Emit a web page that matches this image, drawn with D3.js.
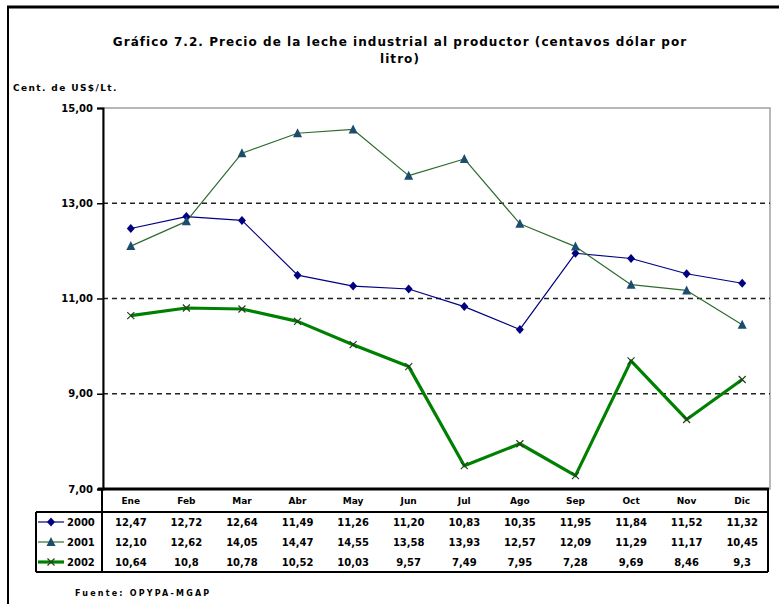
<!DOCTYPE html>
<html><head><meta charset="utf-8">
<script src="https://cdn.jsdelivr.net/npm/d3@7"></script>
<style>
html,body{margin:0;padding:0;background:#fff;}
svg{display:block;font-family:"DejaVu Sans",Verdana,sans-serif;}
</style></head>
<body>
<svg id="c" width="779" height="604"></svg>
<script>
const months = ["Ene","Feb","Mar","Abr","May","Jun","Jul","Ago","Sep","Oct","Nov","Dic"];
const years = ["2000","2001","2002"];
const values2000 = ["12,47","12,72","12,64","11,49","11,26","11,20","10,83","10,35","11,95","11,84","11,52","11,32"];
const values2001 = ["12,10","12,62","14,05","14,47","14,55","13,58","13,93","12,57","12,09","11,29","11,17","10,45"];
const values2002 = ["10,64","10,8","10,78","10,52","10,03","9,57","7,49","7,95","7,28","9,69","8,46","9,3"];
const yTicks = [7,9,11,13,15];
const yTickLabels = ["7,00","9,00","11,00","13,00","15,00"];
const titleLines = ["Gráfico 7.2. Precio de la leche industrial al productor (centavos dólar por","litro)"];
const yLabel = "Cent. de US$/Lt.";
const source = "Fuente: OPYPA-MGAP";

const parse = s => +s.replace(",", ".");
const series = [
  {name: years[0], labels: values2000, color: "#000080", width: 1.2, marker: "diamond", mcolor: "#000080"},
  {name: years[1], labels: values2001, color: "#2f6b2f", width: 1.2, marker: "triangle", mcolor: "#1d4d6e"},
  {name: years[2], labels: values2002, color: "#008000", width: 3.2, marker: "x", mcolor: "#204020"}
];
series.forEach(s => s.values = s.labels.map(parse));

const svg = d3.select("#c");
const L = 103, R = 770, T = 108, B = 489;
const x = d3.scaleBand().domain(months).range([L, R]);
const y = d3.scaleLinear().domain([7, 15]).range([B, T]);
const cx = m => x(m) + x.bandwidth() / 2;

// outer frame
svg.append("line").attr("x1", 7).attr("x2", 779).attr("y1", 7).attr("y2", 7).attr("stroke", "#000").attr("stroke-width", 3);
svg.append("line").attr("x1", 8).attr("x2", 8).attr("y1", 6).attr("y2", 604).attr("stroke", "#000").attr("stroke-width", 2);

// title
svg.append("g").selectAll("text").data(titleLines).join("text")
  .attr("x", 400).attr("y", (d, i) => 46 + i * 17)
  .attr("text-anchor", "middle").attr("font-size", 12).attr("font-weight", "bold").attr("fill", "#000")
  .attr("letter-spacing", 1.05)
  .text(d => d);

svg.append("text").attr("x", 13).attr("y", 91).attr("font-size", 9).attr("font-weight", "bold")
  .attr("letter-spacing", 1.4).text(yLabel);

// plot area border (gray)
svg.append("rect").attr("x", L).attr("y", T).attr("width", R - L).attr("height", B - T)
  .attr("fill", "none").attr("stroke", "#a0a0a0").attr("stroke-width", 1.5);

// dashed gridlines
svg.append("g").selectAll("line").data(yTicks.filter(t => t > 7 && t < 15)).join("line")
  .attr("x1", L).attr("x2", R).attr("y1", d => y(d)).attr("y2", d => y(d))
  .attr("stroke", "#222").attr("stroke-width", 1.5).attr("stroke-dasharray", "5,4");

// y axis
const yAxis = d3.axisLeft(y).tickValues(yTicks).tickSize(6).tickFormat((d, i) => yTickLabels[i]);
const ga = svg.append("g").attr("transform", `translate(${L},0)`).call(yAxis);
ga.select(".domain").attr("stroke", "#000").attr("stroke-width", 2);
ga.selectAll(".tick line").attr("stroke", "#000").attr("stroke-width", 1.5);
ga.selectAll(".tick text").attr("font-size", 10).attr("font-weight", "bold").attr("font-family", "DejaVu Sans, sans-serif").attr("fill", "#000").attr("x", -10);

// lines
const line = d3.line().x((d, i) => cx(months[i])).y(d => y(d));
series.forEach(s => {
  svg.append("path").datum(s.values).attr("d", line).attr("fill", "none")
    .attr("stroke", s.color).attr("stroke-width", s.width).attr("stroke-linejoin", "round");
});

function drawMarker(g, type, px, py, col) {
  if (type === "diamond") {
    g.append("path").attr("d", `M${px},${py-4.5}L${px+4},${py}L${px},${py+4.5}L${px-4},${py}Z`).attr("fill", col);
  } else if (type === "triangle") {
    g.append("path").attr("d", `M${px},${py-5}L${px+4.5},${py+4}L${px-4.5},${py+4}Z`).attr("fill", col);
  } else {
    g.append("path").attr("d", `M${px-3.5},${py-3.5}L${px+3.5},${py+3.5}M${px+3.5},${py-3.5}L${px-3.5},${py+3.5}`)
      .attr("stroke", col).attr("stroke-width", 1.2);
  }
}
series.forEach(s => {
  const g = svg.append("g");
  s.values.forEach((v, i) => drawMarker(g, s.marker, cx(months[i]), y(v), s.mcolor));
});

// bottom axis thick line
svg.append("line").attr("x1", 98).attr("x2", 769).attr("y1", B).attr("y2", B).attr("stroke", "#000").attr("stroke-width", 3);

// data table
const rowTop = 512, rowH = 20, legL = 36, tableR = 768;
svg.append("g").selectAll("text").data(months).join("text")
  .attr("x", d => cx(d)).attr("y", 504).attr("text-anchor", "middle")
  .attr("font-size", 9).attr("font-weight", "bold").text(d => d);
// table borders
svg.append("line").attr("x1", legL).attr("x2", tableR).attr("y1", rowTop).attr("y2", rowTop).attr("stroke", "#000").attr("stroke-width", 2);
svg.append("line").attr("x1", legL).attr("x2", tableR).attr("y1", rowTop + 3 * rowH).attr("y2", rowTop + 3 * rowH).attr("stroke", "#000").attr("stroke-width", 2);
svg.append("line").attr("x1", legL).attr("x2", legL).attr("y1", rowTop).attr("y2", rowTop + 3 * rowH).attr("stroke", "#000").attr("stroke-width", 2);
svg.append("line").attr("x1", tableR).attr("x2", tableR).attr("y1", B).attr("y2", rowTop + 3 * rowH).attr("stroke", "#000").attr("stroke-width", 2);
svg.append("line").attr("x1", L - 1).attr("x2", L - 1).attr("y1", B).attr("y2", rowTop + 3 * rowH).attr("stroke", "#000").attr("stroke-width", 2);

series.forEach((s, r) => {
  const cy = rowTop + r * rowH + rowH / 2;
  const g = svg.append("g");
  g.append("line").attr("x1", legL + 2).attr("x2", legL + 28).attr("y1", cy).attr("y2", cy).attr("stroke", s.color).attr("stroke-width", s.width);
  drawMarker(g, s.marker, legL + 15, cy, s.mcolor);
  g.append("text").attr("x", legL + 31).attr("y", cy + 4).attr("font-size", 10).attr("font-weight", "bold").text(s.name);
  g.selectAll("text.v").data(s.labels).join("text").attr("class", "v")
    .attr("x", (d, i) => cx(months[i])).attr("y", cy + 4).attr("text-anchor", "middle")
    .attr("font-size", 10).attr("font-weight", "bold").text(d => d);
});

svg.append("text").attr("x", 75).attr("y", 596).attr("font-size", 8).attr("font-weight", "bold")
  .attr("letter-spacing", 2.2).text(source);
</script>
</body></html>
